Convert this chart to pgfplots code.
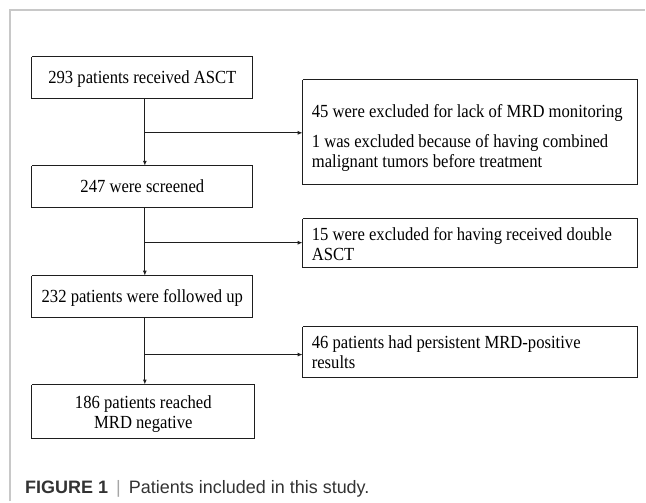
\documentclass[border=0pt]{standalone}
\usepackage{fontspec}
\setmainfont[FakeStretch=0.9]{Liberation Serif}
\newfontfamily\capfont{Liberation Sans}
\usepackage{pgfplots}
\pgfplotsset{compat=1.18}
\usetikzlibrary{arrows.meta}
\definecolor{frame}{HTML}{C8C8C8}
\definecolor{boxline}{HTML}{1E1E1E}
\definecolor{captxt}{HTML}{333333}
\begin{document}
\begin{tikzpicture}
\begin{axis}[
  width=646pt, height=502pt, scale only axis,
  xmin=0, xmax=646, ymin=0, ymax=502, y dir=reverse,
  hide axis, clip=false,
  every axis plot/.append style={line join=miter},
]
% bounding box
\addplot[draw=none, forget plot] coordinates {(0,0) (646,502)};
% frame
\addplot[frame, line width=1.6pt, mark=none] coordinates {(10,502) (10,10) (646,10)};
% left boxes
\addplot[boxline, line width=1pt, mark=none] coordinates {(32,57) (253,57) (253,99) (32,99) (32,57)};
\addplot[boxline, line width=1pt, mark=none] coordinates {(32,166) (253,166) (253,208) (32,208) (32,166)};
\addplot[boxline, line width=1pt, mark=none] coordinates {(32,276) (253,276) (253,318) (32,318) (32,276)};
\addplot[boxline, line width=1pt, mark=none] coordinates {(32,385) (255,385) (255,439) (32,439) (32,385)};
% right boxes
\addplot[boxline, line width=1pt, mark=none] coordinates {(303,80) (638,80) (638,185) (303,185) (303,80)};
\addplot[boxline, line width=1pt, mark=none] coordinates {(303,219) (638,219) (638,268) (303,268) (303,219)};
\addplot[boxline, line width=1pt, mark=none] coordinates {(303,327) (638,327) (638,378) (303,378) (303,327)};
% vertical arrows
\addplot[boxline, line width=1pt, mark=none, -{Latex[length=5pt,width=4pt]}] coordinates {(145,99) (145,166)};
\addplot[boxline, line width=1pt, mark=none, -{Latex[length=5pt,width=4pt]}] coordinates {(145,208) (145,276)};
\addplot[boxline, line width=1pt, mark=none, -{Latex[length=5pt,width=4pt]}] coordinates {(145,318) (145,385)};
% horizontal arrows
\addplot[boxline, line width=1pt, mark=none, -{Latex[length=5pt,width=4pt]}] coordinates {(145,133) (303,133)};
\addplot[boxline, line width=1pt, mark=none, -{Latex[length=5pt,width=4pt]}] coordinates {(145,243) (303,243)};
\addplot[boxline, line width=1pt, mark=none, -{Latex[length=5pt,width=4pt]}] coordinates {(145,355) (303,355)};
% texts
\tikzset{t/.style={inner sep=0pt, font=\fontsize{18.5}{20}\selectfont}}
\node[t, anchor=base] at (axis cs:142.5,84) {293 patients received ASCT};
\node[t, anchor=base] at (axis cs:142.5,193) {247 were screened};
\node[t, anchor=base] at (axis cs:142.5,303) {232 patients were followed up};
\node[t, anchor=base] at (axis cs:143.5,409) {186 patients reached};
\node[t, anchor=base] at (axis cs:143.5,429) {MRD negative};
\node[t, anchor=base west] at (axis cs:312,118) {45 were excluded for lack of MRD monitoring};
\node[t, anchor=base west] at (axis cs:312,148) {1 was excluded because of having combined};
\node[t, anchor=base west] at (axis cs:312,168) {malignant tumors before treatment};
\node[t, anchor=base west] at (axis cs:312,241) {15 were excluded for having received double};
\node[t, anchor=base west] at (axis cs:312,261) {ASCT};
\node[t, anchor=base west] at (axis cs:312,349) {46 patients had persistent MRD-positive};
\node[t, anchor=base west] at (axis cs:312,369) {results};
% caption
\node[inner sep=0pt, anchor=base west, font=\capfont\fontsize{18}{20}\selectfont, text=captxt] at (axis cs:25,494)
  {\textbf{FIGURE 1}\hspace{0.45em}{\color{gray!70}|}\hspace{0.45em}Patients included in this study.};
\end{axis}
\end{tikzpicture}
\end{document}
